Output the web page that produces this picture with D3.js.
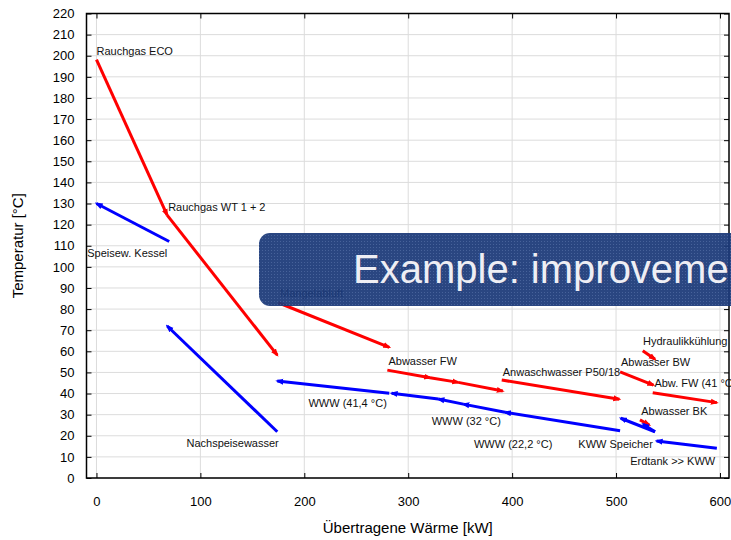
<!DOCTYPE html>
<html>
<head>
<meta charset="utf-8">
<script src="https://cdn.jsdelivr.net/npm/d3@7"></script>
<style>
  html, body { margin: 0; padding: 0; background: #fff; }
  svg { display: block; font-family: "Liberation Sans", Arial, sans-serif; }
</style>
</head>
<body>
<svg id="chart" width="731" height="540"></svg>
<script>
// Heat streams: [Q start kW, T start °C, Q end kW, T end °C]; arrow sits at the end point
const hotStreams = [
  [0, 198.2, 68, 124.5],
  [68, 124.5, 174, 58.2],
  [175, 83, 281.8, 61.9],
  [279.9, 51.1, 321, 47.5],
  [321, 47.5, 348.2, 45.3],
  [348.2, 45.3, 391, 41.2],
  [390, 46.4, 503.2, 37.3],
  [503.9, 50.3, 536, 44],
  [525.7, 60.3, 537.5, 56.2],
  [535.3, 40.4, 597, 35.7],
  [523, 27.5, 532, 25.1]
];
const coldStreams = [
  [70, 112, 0, 130],
  [174, 21.9, 68, 72],
  [281.8, 40.1, 174, 45.9],
  [329, 37.4, 284, 40.1],
  [353, 35, 329, 37.4],
  [393.2, 31.1, 353, 35],
  [503.9, 22.4, 393.2, 31.1],
  [537.5, 21.9, 504.5, 28.3],
  [537.5, 21.9, 526, 25.5],
  [597, 14.1, 539, 17.5]
];
// Stream names, anchored at [Q, T] (left edge, baseline)
const streamNames = ["Rauchgas ECO", "Rauchgas WT 1 + 2", "Speisew. Kessel", "Nachspeisewasser",
  "Mangelabluft", "WWW (41,4 °C)", "Abwasser FW", "Anwaschwasser P50/18", "WWW (32 °C)",
  "WWW (22,2 °C)", "KWW Speicher", "Hydraulikkühlung", "Abwasser BW", "Abw. FW (41 °C)",
  "Abwasser BK", "Erdtank >> KWW"];
const nameAnchors = [[0, 200.3], [69, 126.6], [-8.9, 104.8], [86.6, 14.5],
  [176.6, 85.7], [204, 33.8], [281, 53.5], [391, 48.3], [322.6, 25.1],
  [363.3, 14.3], [463.7, 14.3], [526, 63], [504.8, 53], [536.9, 43.2],
  [524.2, 29.8], [513.6, 6.2]];
const xTicks = [0, 100, 200, 300, 400, 500, 600];
const yTicks = d3.range(0, 221, 10);
const bannerText = "Example: improvement";

const svg = d3.select("#chart");
const x = d3.scaleLinear().domain([-9.6, 608.7]).range([86.5, 729]);
const y = d3.scaleLinear().domain([0, 220]).range([478, 13.5]);
const plotL = x.range()[0], plotR = x.range()[1], plotT = y.range()[1], plotB = y.range()[0];

// grid
const grid = svg.append("g").attr("stroke", "#dcdcdc").attr("stroke-width", 1);
grid.selectAll(".gx").data(xTicks).join("line").attr("class", "gx")
  .attr("x1", d => x(d)).attr("x2", d => x(d)).attr("y1", plotT).attr("y2", plotB);
grid.selectAll(".gy").data(yTicks).join("line").attr("class", "gy")
  .attr("x1", plotL).attr("x2", plotR).attr("y1", d => y(d)).attr("y2", d => y(d));

// axes with inward ticks on all four sides
const ax = g => g.selectAll("text").attr("font-size", 13).attr("fill", "#000")
  .attr("font-family", "Liberation Sans, Arial, sans-serif");
svg.append("g").attr("transform", `translate(0,${plotB})`)
  .call(d3.axisBottom(x).tickValues(xTicks).tickSizeInner(-5).tickSizeOuter(0).tickPadding(19))
  .call(g => g.select(".domain").remove()).call(ax);
svg.append("g").attr("transform", `translate(${plotL},0)`)
  .call(d3.axisLeft(y).tickValues(yTicks).tickSizeInner(-5).tickSizeOuter(0).tickPadding(12))
  .call(g => g.select(".domain").remove()).call(ax);
svg.append("g").attr("transform", `translate(0,${plotT})`)
  .call(d3.axisTop(x).tickValues(xTicks).tickSizeInner(-5).tickSizeOuter(0).tickFormat(""))
  .call(g => g.select(".domain").remove());
svg.append("g").attr("transform", `translate(${plotR},0)`)
  .call(d3.axisRight(y).tickValues(yTicks).tickSizeInner(-5).tickSizeOuter(0).tickFormat(""))
  .call(g => g.select(".domain").remove());
svg.append("rect").attr("x", plotL).attr("y", plotT).attr("width", plotR - plotL).attr("height", plotB - plotT)
  .attr("fill", "none").attr("stroke", "#000").attr("stroke-width", 1.5);

// axis titles
svg.append("text").attr("x", (plotL + plotR) / 2).attr("y", 533).attr("text-anchor", "middle")
  .attr("font-size", 15).text("Übertragene Wärme [kW]");
svg.append("text").attr("transform", `translate(23,${(plotT + plotB) / 2}) rotate(-90)`)
  .attr("text-anchor", "middle").attr("font-size", 15).text("Temperatur [°C]");

// arrow markers
const defs = svg.append("defs");
[["hot", "#ff0000"], ["cold", "#0000ff"]].forEach(([id, c]) => {
  defs.append("marker").attr("id", "arr-" + id).attr("markerUnits", "userSpaceOnUse")
    .attr("viewBox", "0 -4 8 8").attr("refX", 6).attr("refY", 0)
    .attr("markerWidth", 8).attr("markerHeight", 8).attr("orient", "auto")
    .append("path").attr("d", "M0,-3L8,0L0,3Z").attr("fill", c);
});

const drawStreams = (data, color, id) => svg.append("g").selectAll("line").data(data).join("line")
  .attr("x1", d => x(d[0])).attr("y1", d => y(d[1]))
  .attr("x2", d => x(d[2])).attr("y2", d => y(d[3]))
  .attr("stroke", color).attr("stroke-width", 3).attr("stroke-linecap", "butt")
  .attr("marker-end", `url(#arr-${id})`);
drawStreams(hotStreams, "#ff0000", "hot");
drawStreams(coldStreams, "#0000ff", "cold");

svg.append("g").selectAll("text").data(streamNames).join("text")
  .attr("x", (d, i) => x(nameAnchors[i][0])).attr("y", (d, i) => y(nameAnchors[i][1]))
  .attr("font-size", 11).attr("fill", "#111").text(d => d);

// overlay banner with halftone dots
const pat = defs.append("pattern").attr("id", "dots").attr("patternUnits", "userSpaceOnUse")
  .attr("width", 3).attr("height", 3);
pat.append("rect").attr("width", 3).attr("height", 3).attr("fill", "#1c3a79");
pat.append("rect").attr("x", 1).attr("y", 1).attr("width", 1).attr("height", 1).attr("fill", "#3b5894");
svg.append("rect").attr("x", 259).attr("y", 233).attr("width", 520).attr("height", 73).attr("rx", 11)
  .attr("fill", "url(#dots)").attr("opacity", 0.94);
svg.append("text").attr("x", 353).attr("y", 283).attr("font-size", 40).attr("fill", "#eeeef4")
  .text(bannerText);
</script>
</body>
</html>
